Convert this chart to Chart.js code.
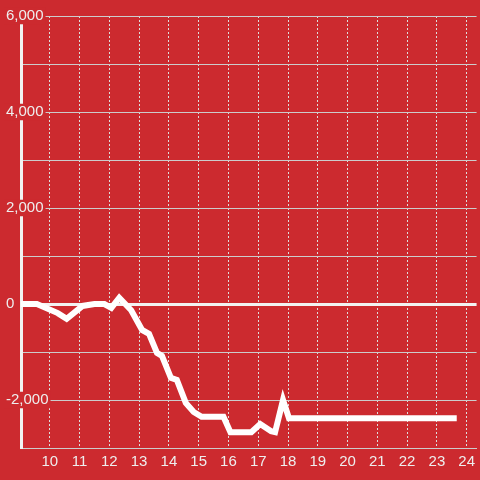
<!DOCTYPE html>
<html>
<head>
<meta charset="utf-8">
<script src="https://cdn.jsdelivr.net/npm/chart.js@4"></script>
<style>
  html, body { margin: 0; padding: 0; background: #cc2a2f; }
  #wrap { width: 480px; height: 480px; }
</style>
</head>
<body>
<div id="wrap"><canvas id="chart"></canvas></div>
<script>
// hours of the day and the running value at each point
const hours = [9.033, 9.567, 10.267, 10.567, 11.1, 11.5, 11.833, 12.067, 12.333, 12.733,
               13.1, 13.333, 13.6, 13.767, 14.067, 14.267, 14.567, 14.833, 15.1, 15.833,
               16.067, 16.767, 17.067, 17.433, 17.567, 17.833, 18.033, 23.667];
const values = [0, 0, -190, -310, -40, 0, 0, -80, 130, -130,
                -540, -620, -1020, -1080, -1540, -1580, -2060, -2250, -2350, -2350,
                -2670, -2670, -2500, -2650, -2670, -2000, -2380, -2380];
const xTicks = [10, 11, 12, 13, 14, 15, 16, 17, 18, 19, 20, 21, 22, 23, 24];
const yLabelled = [-2000, 0, 2000, 4000, 6000];

const RED = '#cc2a2f';
const TEXT = '#eeeeee';

document.addEventListener('DOMContentLoaded', () => {
    const ctx = document.getElementById('chart').getContext('2d');
    new Chart(ctx, {
        type: 'line',
        data: {
            datasets: [{
                data: hours.map((h, i) => ({ x: h, y: values[i] })),
                borderColor: '#ffffff',
                borderWidth: 6,
                borderJoinStyle: 'miter',
                borderCapStyle: 'butt',
                pointRadius: 0,
                tension: 0,
                fill: false
            }]
        },
        options: {
            responsive: true,
            maintainAspectRatio: false,
            animation: false,
            layout: { autoPadding: false, padding: { top: 16, right: 0, bottom: 0, left: 0 } },
            plugins: { legend: { display: false }, tooltip: { enabled: false } },
            scales: {
                x: {
                    type: 'linear',
                    min: 9.033,
                    max: 24.333,
                    afterBuildTicks: s => { s.ticks = xTicks.map(v => ({ value: v })); },
                    afterFit: s => { s.height = 32; },
                    grid: { color: '#dddddd', lineWidth: 1, drawTicks: false },
                    border: { display: true, color: '#cccccc', width: 1, dash: [2, 2] },
                    ticks: {
                        color: TEXT,
                        padding: 5,
                        maxRotation: 0,
                        autoSkip: false,
                        font: { family: 'Liberation Sans', size: 15 }
                    }
                },
                y: {
                    min: -3000,
                    max: 6000,
                    afterFit: s => { s.width = 21; },
                    grid: {
                        drawTicks: false,
                        color: c => c.tick && c.tick.value === 0 ? '#f2f2f2' : '#cccccc',
                        lineWidth: c => c.tick && c.tick.value === 0 ? 3 : 1
                    },
                    border: { display: true, color: '#f2f2f2', width: 3 },
                    ticks: {
                        stepSize: 1000,
                        color: TEXT,
                        mirror: true,
                        padding: -15,
                        font: { family: 'Liberation Sans', size: 15, lineHeight: 1.1 },
                        showLabelBackdrop: true,
                        backdropPadding: { left: 2, right: 2, top: 0, bottom: 0 },
                        backdropColor: c => (c.tick && c.tick.value !== 0 && yLabelled.includes(c.tick.value)) ? RED : 'rgba(0,0,0,0)',
                        callback: v => yLabelled.includes(v) ? v.toLocaleString('en-US') : ''
                    }
                }
            }
        }
    });
});
</script>
</body>
</html>
